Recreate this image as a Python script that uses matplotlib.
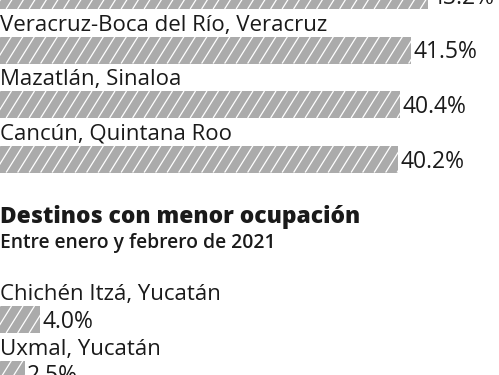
import numpy as np
import matplotlib
matplotlib.use("Agg")
import matplotlib.pyplot as plt
from matplotlib.collections import LineCollection

# --- Data ---
top_names = ["", "Veracruz-Boca del Río, Veracruz", "Mazatlán, Sinaloa", "Cancún, Quintana Roo"]
top_values = [43.2, 41.5, 40.4, 40.2]

low_title = "Destinos con menor ocupación"
low_subtitle = "Entre enero y febrero de 2021"
low_names = ["Chichén Itzá, Yucatán", "Uxmal, Yucatán"]
low_values = [4.0, 2.5]

# --- Layout (pixels) ---
W, H = 499, 375
px_per_pct = 9.9
bar_h = 27
row_step = 54.5
top_first = -4.5
low_first = 319.5
bar_color = "#ababab"
text_color = "#1a1a1a"
font = "Open Sans"

fig = plt.figure(figsize=(W / 100, H / 100), dpi=100)
ax = fig.add_axes([0, 0, 1, 1])
ax.set_xlim(0, W / px_per_pct)
ax.set_ylim(H, 0)
ax.axis("off")


def draw_rows(names, values, first):
    ys = first + row_step * np.arange(len(values))
    bars = ax.barh(ys, values, height=bar_h, color=bar_color, linewidth=0)
    for bar, name, val, y in zip(bars, names, values, ys):
        # white diagonal stripes, clipped to the bar
        top, bot = y - bar_h / 2, y + bar_h / 2
        run = (bar_h / 1.6) / px_per_pct
        step = 11.5 / px_per_pct
        starts = np.arange(-run, val + step, step)
        segs = [[(s, bot), (s + run, top)] for s in starts]
        lc = LineCollection(segs, colors="white", linewidths=0.9)
        ax.add_collection(lc)
        lc.set_clip_path(bar)
        ax.text(0, top - 6, name, fontsize=16, family=font, color=text_color, va="baseline", ha="left")
        ax.text(val + 0.25, bot - 5, f"{val:.1f}%", fontsize=16.5, family=font, color=text_color,
                va="baseline", ha="left")


draw_rows(top_names, top_values, top_first)

ax.text(0, 223, low_title, fontsize=16.4, family=font, weight="heavy", color=text_color, va="baseline")
ax.text(0, 248, low_subtitle, fontsize=13.9, family=font, weight="semibold", color=text_color, va="baseline")

draw_rows(low_names, low_values, low_first)

fig.savefig("out.png", dpi=100, facecolor="white")
